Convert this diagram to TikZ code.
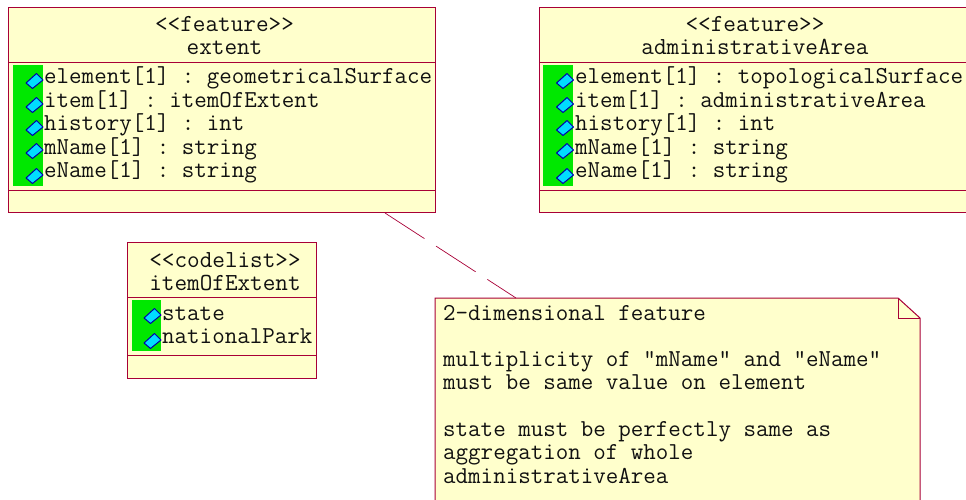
\documentclass[tikz,border=0pt]{standalone}
\usepackage{fontspec}
\setmonofont{Latin Modern Mono}
\begin{document}
\begin{tikzpicture}[x=1pt,y=-1pt,
  umlbox/.style={draw=umlline,fill=umlfill,line width=1pt,rectangle,inner sep=0pt,anchor=north west},
  sep/.style={draw=umlline,line width=0.8pt},
  title/.style={anchor=base,inner sep=0pt,font=\fontsize{24.5}{24.5}\selectfont\ttfamily,text=txt},
  attr/.style={anchor=base west,inner sep=0pt,font=\fontsize{24.3}{24.3}\selectfont\ttfamily,text=txt},
  greenbar/.style={fill=barg,draw=none,rectangle,inner sep=0pt,anchor=north west},
  attricon/.pic={\draw[fill=iconc,draw=iconb,line width=1pt,line join=round] (-8.5,2)--(2,-7.5)--(8.5,-1)--(-2,7.5)--cycle;}]
\definecolor{umlline}{HTML}{A80036}
\definecolor{umlfill}{HTML}{FFFFCC}
\definecolor{txt}{HTML}{111111}
\definecolor{barg}{HTML}{00E800}
\definecolor{iconc}{HTML}{00DDFF}
\definecolor{iconb}{HTML}{0000A8}
\useasboundingbox (0,0) rectangle (966,500);
% note
\coordinate (nw) at (435,298);
\coordinate (nf) at (898,298);
\coordinate (ne) at (920,318);
\coordinate (nse) at (920,500);
\coordinate (nsw) at (435,500);
\coordinate (nfold) at (898,318);
\coordinate (notelink) at (516,298);
\coordinate (extentlink) at (385,213);
\draw[umlline,fill=umlfill,line width=1pt] (nsw)--(nw)--(nf)--(ne)--(nse);
\draw[umlline,line width=0.8pt] (nf)--(nfold)--(ne);
\draw[umlline,line width=0.7pt,dash pattern=on 47pt off 14pt] (extentlink)--(notelink);
\foreach \t/\y/\n in {2-dimensional feature/320/a,multiplicity of "mName" and "eName"/366/b,must be same value on element/389/c,state must be perfectly same as/436/d,aggregation of whole/459/e,administrativeArea/483/f}
  \node[attr] (note\n) at (443,\y) {\t};
% extent
\node[umlbox,minimum width=427pt,minimum height=205pt] (extent) at (8,7) {};
\draw[sep] (8,62)--(435,62) (8,190)--(435,190);
\node[title] (ext1) at (224.5,32) {<{}<feature>{}>};
\node[title] (ext2) at (224.5,55) {extent};
\node[greenbar,minimum width=30pt,minimum height=121pt] (extg) at (13,65) {};
\foreach \y in {81,105,128,151,176} \pic at (34.5,\y) {attricon};
\node[attr] (ea) at (44,84) {element[1] : geometricalSurface};
\node[attr] (eb) at (44,108) {item[1] : itemOfExtent};
\node[attr] (ec) at (44,131) {history[1] : int};
\node[attr] (ed) at (44,154) {mName[1] : string};
\node[attr] (ee) at (44,177) {eName[1] : string};
% administrativeArea
\node[umlbox,minimum width=427pt,minimum height=205pt] (admin) at (539,7) {};
\draw[sep] (539,62)--(966,62) (539,190)--(966,190);
\node[title] (adm1) at (755,32) {<{}<feature>{}>};
\node[title] (adm2) at (755,55) {administrativeArea};
\node[greenbar,minimum width=30pt,minimum height=121pt] (admg) at (543,65) {};
\foreach \y in {81,105,128,151,176} \pic at (565,\y) {attricon};
\node[attr] (aa) at (575,84) {element[1] : topologicalSurface};
\node[attr] (ab) at (575,108) {item[1] : administrativeArea};
\node[attr] (ac) at (575,131) {history[1] : int};
\node[attr] (ad) at (575,154) {mName[1] : string};
\node[attr] (ae) at (575,177) {eName[1] : string};
% codelist
\node[umlbox,minimum width=189pt,minimum height=136pt] (code) at (127,242) {};
\draw[sep] (127,297)--(316,297) (127,355)--(316,355);
\node[title] (cd1) at (225,267) {<{}<codelist>{}>};
\node[title] (cd2) at (225,290) {itemOfExtent};
\node[greenbar,minimum width=29pt,minimum height=51pt] (cdg) at (132,300) {};
\foreach \y in {316,341} \pic at (152.5,\y) {attricon};
\node[attr] (ca) at (162,320) {state};
\node[attr] (cb) at (162,343) {nationalPark};
\end{tikzpicture}
\end{document}
